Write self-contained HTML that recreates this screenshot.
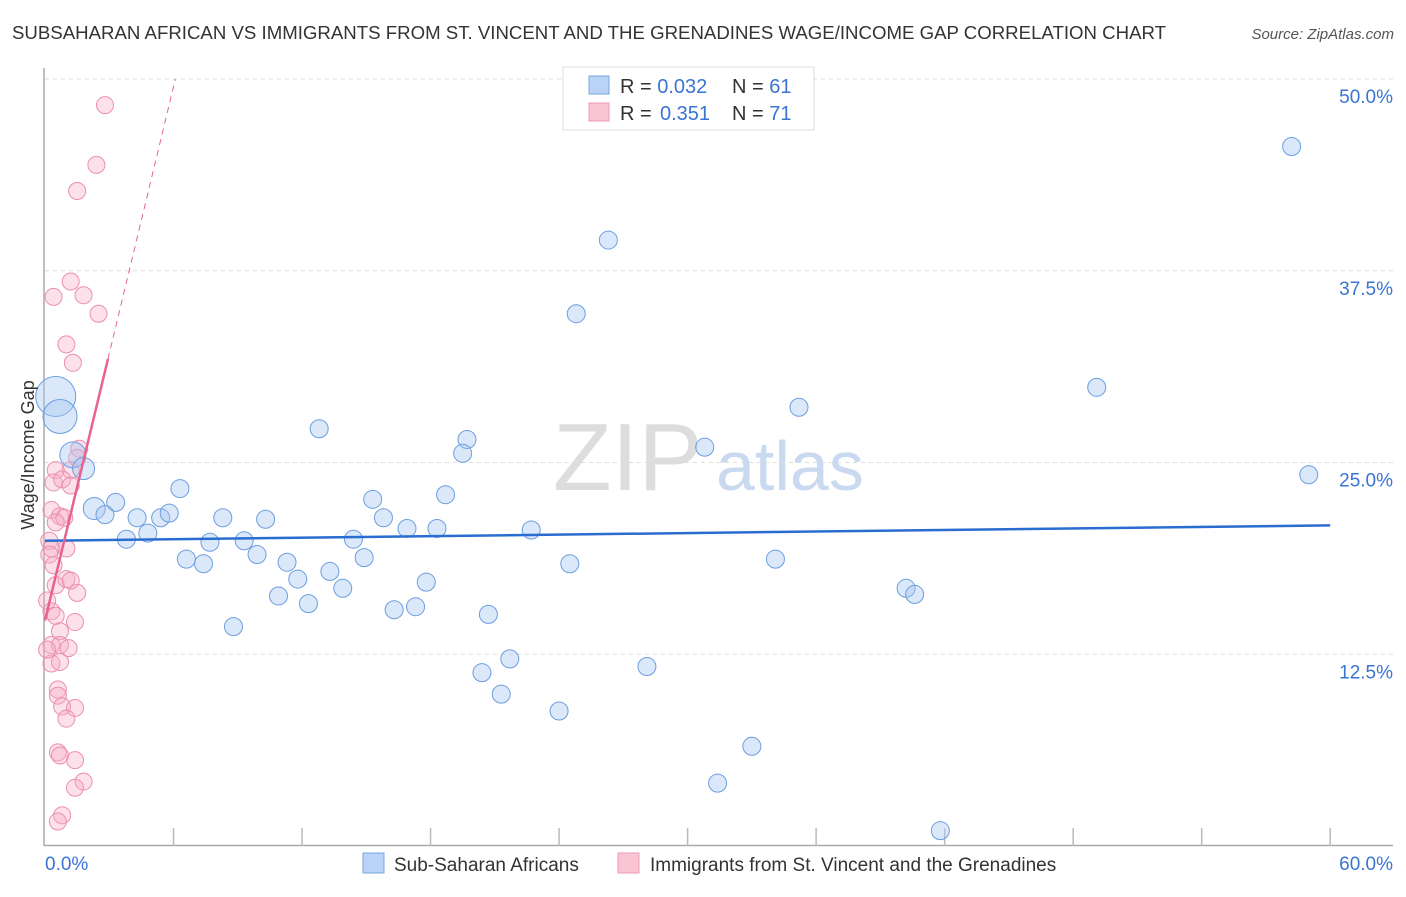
<!DOCTYPE html>
<html><head><meta charset="utf-8"><style>
body{margin:0;background:#fff;font-family:"Liberation Sans",sans-serif;}
svg text{font-family:"Liberation Sans",sans-serif;}
</style></head><body>
<svg id="chart" width="1406" height="892" xmlns="http://www.w3.org/2000/svg">
<text x="12" y="39" font-size="18" fill="#333" textLength="1154" lengthAdjust="spacingAndGlyphs">SUBSAHARAN AFRICAN VS IMMIGRANTS FROM ST. VINCENT AND THE GRENADINES WAGE/INCOME GAP CORRELATION CHART</text>
<text x="1394" y="39" font-size="15" fill="#555" font-style="italic" text-anchor="end">Source: ZipAtlas.com</text>
<text x="553" y="490" font-size="96" fill="#ddd" font-family="Liberation Serif,serif">ZIP</text>
<text x="716" y="490" font-size="70" fill="#c9d9f0">atlas</text>
<g id="grid"></g>
<g id="axes"></g>
<g id="pts"></g>
<g id="trend"></g>
<text transform="translate(34,455) rotate(-90)" font-size="18" fill="#333" text-anchor="middle">Wage/Income Gap</text>
<g>
<rect x="563" y="67" width="251" height="63" fill="#fff" stroke="#ddd"/>
<rect x="589" y="76" width="20" height="18" fill="#b8d3f5" stroke="#7aa7e0"/>
<rect x="589" y="103" width="20" height="18" fill="#f9c5d5" stroke="#eb9ab4"/>
<text x="620" y="93" font-size="20" fill="#333">R = <tspan fill="#3a74d4">0.032</tspan><tspan x="732">N = </tspan><tspan fill="#3a74d4">61</tspan></text>
<text x="620" y="120" font-size="20" fill="#333">R = <tspan x="660" fill="#3a74d4">0.351</tspan><tspan x="732">N = </tspan><tspan fill="#3a74d4">71</tspan></text>
</g>
<g>
<rect x="363" y="853" width="21" height="20" fill="#b8d3f5" stroke="#7aa7e0"/>
<text x="394" y="871" font-size="19" fill="#333">Sub-Saharan Africans</text>
<rect x="618" y="853" width="21" height="20" fill="#f9c5d5" stroke="#eb9ab4"/>
<text x="650" y="871" font-size="19" fill="#333">Immigrants from St. Vincent and the Grenadines</text>
</g>
</svg>
<script>
const blueX=[58.2,26.3,24.8,49.1,35.2,12.8,19.7,19.5,30.8,59.0,6.3,18.7,15.3,3.3,2.3,2.8,4.3,5.4,5.8,8.3,10.3,15.8,16.9,18.3,22.7,3.8,4.8,7.7,9.3,14.4,9.9,6.6,7.4,11.3,14.9,24.5,34.1,13.3,11.8,17.8,13.9,10.9,12.3,16.3,17.3,40.2,40.6,20.7,8.8,21.7,20.4,28.1,21.3,24.0,33.0,31.4,41.8,0.5,0.7,1.3,1.8];
const blueY=[45.6,39.5,34.7,29.9,28.6,27.2,26.5,25.6,26.0,24.2,23.3,22.9,22.6,22.4,22.0,21.6,21.4,21.4,21.7,21.4,21.3,21.4,20.7,20.7,20.6,20.0,20.4,19.8,19.9,20.0,19.0,18.7,18.4,18.5,18.8,18.4,18.7,17.9,17.4,17.2,16.8,16.3,15.8,15.4,15.6,16.8,16.4,15.1,14.3,12.2,11.3,11.7,9.9,8.8,6.5,4.1,1.0,29.3,28.0,25.5,24.6];
const blueR=[9,9,9,9,9,9,9,9,9,9,9,9,9,9,11,9,9,9,9,9,9,9,9,9,9,9,9,9,9,9,9,9,9,9,9,9,9,9,9,9,9,9,9,9,9,9,9,9,9,9,9,9,9,9,9,9,9,20,17,13,11];
const pinkX=[2.8,2.4,1.5,1.2,0.4,1.8,2.5,1.0,1.3,1.6,1.5,1.2,0.5,0.4,0.8,1.2,0.3,0.7,0.9,0.5,0.2,0.3,1.0,0.2,0.4,0.5,1.0,1.5,0.3,0.5,1.4,0.7,0.3,0.7,1.1,0.3,0.7,0.6,0.6,0.8,1.4,1.0,0.6,0.7,1.4,1.8,1.4,0.8,0.6,0.1,0.1,1.2];
const pinkY=[48.3,44.4,42.7,36.8,35.8,35.9,34.7,32.7,31.5,25.9,25.3,24.5,24.5,23.7,23.9,23.5,21.9,21.5,21.4,21.1,19.9,19.4,19.4,19.0,18.3,17.0,17.4,16.5,15.3,15.0,14.6,14.0,13.1,13.1,12.9,11.9,12.0,10.2,9.8,9.1,9.0,8.3,6.1,5.9,5.6,4.2,3.8,2.0,1.6,16.0,12.8,17.3];
const yTicks=[12.5,25,37.5,50];
const yTickLabels=["12.5%","25.0%","37.5%","50.0%"];
const blueTrend=[19.9,20.9];
const pinkTrend=[14.7,5.8];
const NS="http://www.w3.org/2000/svg";
const xs=v=>45+v*21.42, ys=v=>846-v*15.34;
function mk(tag,attrs,parent){const e=document.createElementNS(NS,tag);for(const k in attrs)e.setAttribute(k,attrs[k]);parent.appendChild(e);return e;}
const grid=document.getElementById('grid'),axes=document.getElementById('axes'),pts=document.getElementById('pts'),tr=document.getElementById('trend');
yTicks.forEach((t,i)=>{
 const l=mk('line',{x1:45,x2:1393,y1:ys(t),y2:ys(t),stroke:'#ddd','stroke-dasharray':'4,4'},grid);
 
 
 const tx=mk('text',{x:1393,y:ys(t)+24,'font-size':19,fill:'#3a74d4','text-anchor':'end'},axes);
 tx.textContent=yTickLabels[i];
 
 
});
mk('line',{x1:44,x2:44,y1:68,y2:846,stroke:'#aaa','stroke-width':1.5},axes);
mk('line',{x1:44,x2:1393,y1:845.5,y2:845.5,stroke:'#aaa','stroke-width':1.5},axes);
for(let i=1;i<=10;i++){const t=mk('line',{x1:xs(i*6),x2:xs(i*6),y1:828,y2:846,stroke:'#bbb','stroke-width':1.5},axes);
 
 }
const x0=mk('text',{x:45,y:870,'font-size':19,fill:'#3a74d4'},axes);x0.textContent='0.0%';


const x1=mk('text',{x:1393,y:870,'font-size':19,fill:'#3a74d4','text-anchor':'end'},axes);x1.textContent='60.0%';


pinkX.forEach((v,i)=>{const c=mk('circle',{cx:xs(v),cy:ys(pinkY[i]),r:8.5,fill:'rgba(246,170,195,0.35)',stroke:'#ec8fae','stroke-width':1},pts);
 
 });
blueX.forEach((v,i)=>{const c=mk('circle',{cx:xs(v),cy:ys(blueY[i]),r:blueR[i],fill:'rgba(165,198,240,0.4)',stroke:'#6b9ee0','stroke-width':1},pts);
 
 });
const bl=mk('line',{x1:xs(0),y1:ys(blueTrend[0]),x2:xs(60),y2:ys(blueTrend[1]),stroke:'#2a6dd1','stroke-width':2.5},tr);


const pe=2.94, pend=(50-pinkTrend[0])/pinkTrend[1];
const ps=mk('line',{x1:xs(0),y1:ys(pinkTrend[0]),x2:xs(pe),y2:ys(pinkTrend[0]+pinkTrend[1]*pe),stroke:'#e8628f','stroke-width':2.5},tr);


const pd=mk('line',{x1:xs(pe),y1:ys(pinkTrend[0]+pinkTrend[1]*pe),x2:xs(pend),y2:ys(50),stroke:'#e8628f','stroke-width':1,'stroke-dasharray':'6,5'},tr);


</script>
</body></html>
